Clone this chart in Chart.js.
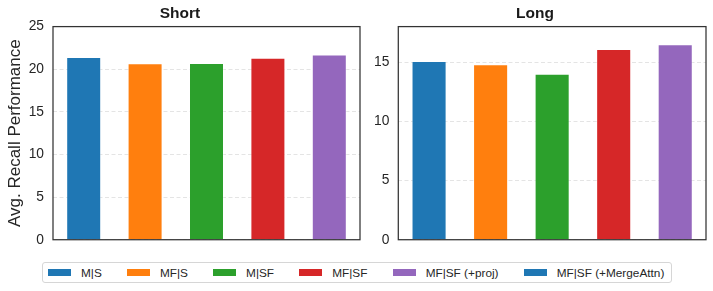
<!DOCTYPE html>
<html>
<head>
<meta charset="utf-8">
<script src="https://cdn.jsdelivr.net/npm/chart.js@4"></script>
<style>
    body { margin: 0; background: #fff; width: 713px; height: 291px; position: relative; overflow: hidden;
           font-family: "Liberation Sans", Arial, sans-serif; }
    .panel { position: absolute; top: 0; }
    #panelShort { left: 0; width: 364px; height: 257px; }
    #panelLong  { left: 364px; width: 349px; height: 257px; }
    #legend {
        position: absolute; left: 42px; top: 262px; width: 630px; height: 21px;
        border: 1px solid #d6d6d6; border-radius: 3px;
        display: flex; align-items: center; padding-left: 5px; box-sizing: border-box;
        font-size: 11.8px; color: #262626; white-space: nowrap;
    }
    .item { display: flex; align-items: center; margin-right: 25.2px; flex-shrink: 0; }
    .swatch { width: 23px; height: 7px; margin-right: 10px; }
</style>
</head>
<body>
<div class="panel" id="panelShort"><canvas id="shortChart"></canvas></div>
<div class="panel" id="panelLong"><canvas id="longChart"></canvas></div>
<div id="legend"></div>

<script>
// ── Data ─────────────────────────────────────────────────────
const categories   = ['M|S', 'MF|S', 'M|SF', 'MF|SF', 'MF|SF (+proj)'];
const legendLabels = ['M|S', 'MF|S', 'M|SF', 'MF|SF', 'MF|SF (+proj)', 'MF|SF (+MergeAttn)'];
const shortValues  = [21.43, 20.70, 20.73, 21.35, 21.74];
const longValues   = [15.10, 14.82, 14.01, 16.10, 16.50];
const shortTicks   = [0, 5, 10, 15, 20, 25];
const longTicks    = [0, 5, 10, 15];
const colors       = ['#1f77b4', '#ff7f0e', '#2ca02c', '#d62728', '#9467bd', '#1f77b4'];

const FONT = '"Liberation Sans", Arial, sans-serif';

// ── Frame around the plot area (all four spines) ─────────────
const framePlugin = {
    id: 'frame',
    afterDraw(chart) {
        const a = chart.chartArea, ctx = chart.ctx;
        ctx.save();
        ctx.strokeStyle = '#333';
        ctx.lineWidth = 1.25;
        ctx.strokeRect(a.left, a.top, a.right - a.left, a.bottom - a.top);
        ctx.restore();
    }
};

// ── Build one panel ──────────────────────────────────────────
function makePanel(id, title, values, ticks, yMax, axisWidth, padRight, yTitle) {
    const ctx = document.getElementById(id).getContext('2d');
    return new Chart(ctx, {
        type: 'bar',
        data: {
            labels: categories,
            datasets: [{
                data: values,
                backgroundColor: colors.slice(0, values.length),
                borderColor: 'rgba(255,255,255,0.35)',
                borderWidth: 1,
                barPercentage: 0.57,
                categoryPercentage: 1.0,
            }]
        },
        options: {
            responsive: true,
            maintainAspectRatio: false,
            animation: false,
            layout: { padding: { top: 0, right: padRight, bottom: 4, left: 0 } },
            plugins: {
                legend: { display: false },
                tooltip: { enabled: false },
                title: {
                    display: true,
                    text: title,
                    color: '#1a1a1a',
                    font: { family: FONT, size: 15.5, weight: 'bold' },
                    padding: { top: 4, bottom: 4 }
                }
            },
            scales: {
                x: {
                    ticks: { display: false },
                    grid: { display: false },
                    border: { display: false }
                },
                y: {
                    min: 0,
                    max: yMax,
                    afterBuildTicks: s => { s.ticks = ticks.map(v => ({ value: v })); },
                    afterFit: s => { s.width = axisWidth; },
                    ticks: {
                        color: '#262626',
                        font: { family: FONT, size: 13.8 },
                        padding: 9
                    },
                    grid: { color: '#dddddd', lineWidth: 0.8, drawTicks: false },
                    border: { display: false, dash: [4, 2.5] },
                    title: {
                        display: !!yTitle,
                        text: yTitle || '',
                        color: '#262626',
                        font: { family: FONT, size: 17 },
                        padding: { top: 5, bottom: 0 }
                    }
                }
            }
        },
        plugins: [framePlugin]
    });
}

makePanel('shortChart', 'Short', shortValues, shortTicks, 25, 53, 4, 'Avg. Recall Performance');
makePanel('longChart', 'Long', longValues, longTicks, 18, 34.3, 7, null);

// ── Legend (shared, below both panels) ───────────────────────
const legend = document.getElementById('legend');
legendLabels.forEach(function (label, i) {
    const item = document.createElement('div');
    item.className = 'item';
    item.innerHTML = `<span class="swatch" style="background:${colors[i]}"></span><span>${label}</span>`;
    legend.appendChild(item);
});
</script>
</body>
</html>
